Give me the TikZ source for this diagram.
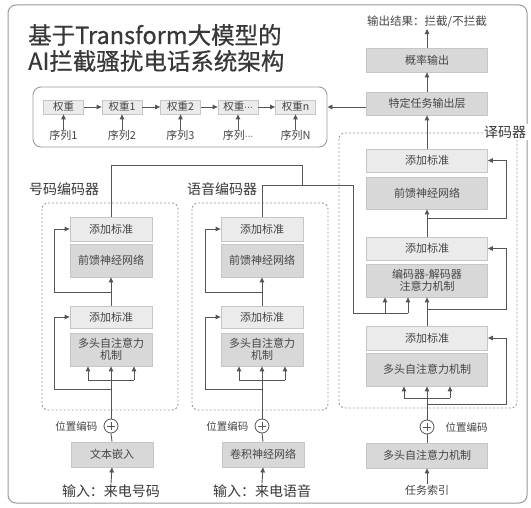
\documentclass[tikz,border=0pt]{standalone}
\usepackage{fontspec}
\setmainfont{Noto Sans CJK SC}
\newfontfamily\titlefont[FakeBold=0.6]{Noto Sans CJK SC}
\newfontfamily\dvfont{DejaVu Sans}
\newcommand{\mydots}{{\dvfont\fontsize{8.5}{10}\selectfont ⋯}}
\usetikzlibrary{arrows.meta}
\definecolor{lightbox}{HTML}{EBEBEB}
\definecolor{darkbox}{HTML}{D8D8D8}
\definecolor{boxline}{HTML}{C6C6C6}
\definecolor{txt}{HTML}{454545}
\definecolor{titletxt}{HTML}{383838}
\definecolor{ln}{HTML}{555555}
\definecolor{frame}{HTML}{9A9A9A}
\begin{document}
\begin{tikzpicture}[x=1pt,y=-1pt,
  lbox/.style={draw=boxline, fill=lightbox, line width=0.8pt, text=txt, font=\fontsize{11}{12.5}\selectfont, inner sep=0pt, align=center},
  dbox/.style={lbox, fill=darkbox},
  encbox/.style={minimum width=82pt},
  decbox/.style={minimum width=121pt},
  wbox/.style={lbox, font=\fontsize{10.5}{12}\selectfont, minimum width=40pt, minimum height=14pt},
  conn/.style={draw=ln, line width=0.9pt},
  arr/.style={conn, -{Triangle[length=5pt,width=4.5pt]}},
  dashbox/.style={draw=frame, line width=0.9pt, dash pattern=on 2pt off 2pt, rounded corners=6pt},
  pluscirc/.style={circle, draw=ln, line width=0.8pt, fill=white, minimum size=14pt, inner sep=0pt},
  small/.style={text=txt, font=\fontsize{10.5}{12}\selectfont, inner sep=1pt},
  lab/.style={text=txt, font=\fontsize{11}{12}\selectfont, inner sep=1pt},
  head/.style={text=titletxt, font=\fontsize{14}{16}\selectfont, inner sep=1pt},
  inlab/.style={text=titletxt, font=\fontsize{14}{16}\selectfont, inner sep=1pt},
]
\useasboundingbox (0,0) rectangle (531,508);
\fill[white] (0,0) rectangle (531,508);
\draw[draw=frame, line width=1pt, rounded corners=8pt] (8,5) rectangle (527,503);

% title
\node[anchor=west, text=titletxt, font=\titlefont\fontsize{23.5}{26}\selectfont, inner sep=0pt] (t1) at (28,35) {基于Transform大模型的};
\node[anchor=west, text=titletxt, font=\titlefont\fontsize{23.5}{26}\selectfont, inner sep=0pt] (t2) at (28,61) {AI拦截骚扰电话系统架构};

% output column
\node[lab, font=\fontsize{11.5}{13}\selectfont] (outT) at (427,22) {输出结果：拦截/不拦截};
\node[dbox, decbox, minimum height=24pt] (oP) at (427,60) {概率输出};
\node[dbox, decbox, minimum height=23pt] (oT) at (427,103.5) {特定任务输出层};

% weights panel
\node[draw=frame, line width=0.9pt, rounded corners=8pt, minimum width=294pt, minimum height=60pt, inner sep=0pt] (panel) at (180,117) {};
\node[wbox] (w1) at (63.5,107) {权重};
\node[wbox] (w2) at (122,107) {权重1};
\node[wbox] (w3) at (180.5,107) {权重2};
\node[wbox] (w4) at (238,107) {权重\mydots};
\node[wbox] (w5) at (295.5,107) {权重n};
\node[lab] (s1) at (63.5,135) {序列1};
\node[lab] (s2) at (122,135) {序列2};
\node[lab] (s3) at (180.5,135) {序列3};
\node[lab] (s4) at (238,135) {序列\mydots};
\node[lab] (s5) at (295.5,135) {序列N};
\foreach \a/\b in {w1/w2,w2/w3,w3/w4,w4/w5} \draw[arr] (\a.east) -- (\b.west);
\foreach \i in {1,...,5} \draw[arr] ([yshift=-1pt]s\i.north) -- (w\i.south);
\draw[arr] (oT.west |- w5) -- (panel.east |- w5);

% dashed containers
\draw[dashbox] (42,203) rectangle (178,410);
\draw[dashbox] (192,203) rectangle (328,410);
\draw[dashbox] (339,133) rectangle (517,408);
\node[head] (hn) at (28,189) [anchor=west] {号码编码器};
\node[head] (hs) at (186,189) [anchor=west] {语音编码器};
\node[head, fill=white, inner sep=1.5pt] (hd) at (505,132) {译码器};

% number encoder
\node[lbox, encbox, minimum height=24pt] (nA2) at (111,229) {添加标准};
\node[dbox, encbox, minimum height=33pt] (nF) at (111,260.5) {前馈神经网络};
\node[lbox, encbox, minimum height=22pt] (nA1) at (111,317) {添加标准};
\node[dbox, encbox, minimum height=33pt] (nM) at (111,349.5) {多头自注意力\\机制};
\node[pluscirc] (nP) at (111,426) {};
\node[small, anchor=east] (npl) at ([xshift=-5pt]nP.west) {位置编码};
\node[dbox, encbox, minimum height=25pt] (nE) at (112,454.5) {文本嵌入};
\node[inlab] (nI) at (111,491) {输入：来电号码};

% speech encoder
\node[lbox, encbox, minimum height=24pt] (sA2) at (262,229) {添加标准};
\node[dbox, encbox, minimum height=33pt] (sF) at (262,260.5) {前馈神经网络};
\node[lbox, encbox, minimum height=22pt] (sA1) at (262,317) {添加标准};
\node[dbox, encbox, minimum height=33pt] (sM) at (262,349.5) {多头自注意力\\机制};
\node[pluscirc] (sP) at (262,426) {};
\node[small, anchor=east] (spl) at ([xshift=-5pt]sP.west) {位置编码};
\node[dbox, encbox, minimum height=25pt] (sE) at (263,454.5) {卷积神经网络};
\node[inlab] (sI) at (262,491) {输入：来电语音};

% decoder
\node[lbox, decbox, minimum height=23pt] (dA3) at (427,160.5) {添加标准};
\node[dbox, decbox, minimum height=32pt] (dF) at (427,193) {前馈神经网络};
\node[lbox, decbox, minimum height=23pt] (dA2) at (427,248.5) {添加标准};
\node[dbox, decbox, minimum height=33pt] (dC) at (427,280.5) {编码器-解码器\\注意力机制};
\node[lbox, decbox, minimum height=24pt] (dA1) at (427,338) {添加标准};
\node[dbox, decbox, minimum height=33pt] (dM) at (427,369.5) {多头自注意力机制};
\node[pluscirc] (dP) at (427,427) {};
\node[small, anchor=west] (dpl) at ([xshift=10pt]dP.east) {位置编码};
\node[dbox, decbox, minimum height=25pt] (dQ) at (427,455.5) {多头自注意力机制};
\node[lab] (dI) at (427,490) {任务索引};

% plus signs
\foreach \p in {nP,sP,dP} {
  \draw[conn, line width=0.8pt] ([xshift=-4pt]\p.center) -- ([xshift=4pt]\p.center);
  \draw[conn, line width=0.8pt] ([yshift=-4pt]\p.center) -- ([yshift=4pt]\p.center);
}

% encoder connections
\foreach \e/\x in {n/111,s/262} {
  \draw[arr] (\e I.north) -- (\e E.south);
  \draw[conn] (\e E.north) -- (\e P.south);
  \draw[arr] (\e P.north) -- (\e M.south);
  \coordinate (\e L) at (\x-23,380);
  \coordinate (\e R) at (\x+23,380);
  \draw[conn] (\e L) -- (\e R);
  \draw[arr] (\e L) -- (\e L |- \e M.south);
  \draw[arr] (\e R) -- (\e R |- \e M.south);
  \coordinate (\e r1) at (\x,389);
  \draw[arr] (\e r1) -| ([xshift=-15pt]\e A1.west) -- (\e A1.west);
  \draw[arr] (\e A1.north) -- (\e F.south);
  \coordinate (\e r2) at (\x,292);
  \draw[arr] (\e r2) -| ([xshift=-15pt]\e A2.west) -- (\e A2.west);
}

% encoder outputs to decoder
\coordinate (cL) at (385,313);
\coordinate (cR) at (408,313);
\draw[conn] (nA2.north) |- (302,165) -- (302,185);
\draw[conn] (sA2.north) |- (353,185) |- (cR);
\draw[arr] (cL) -- (cL |- dC.south);
\draw[arr] (cR) -- (cR |- dC.south);

% decoder connections
\draw[arr] (dI.north) -- (dQ.south);
\draw[conn] (dQ.north) -- (dP.south);
\draw[arr] (dP.north) -- (dM.south);
\coordinate (dL) at (404,398);
\coordinate (dR) at (450,398);
\draw[conn] (dL) -- (dR);
\draw[arr] (dL) -- (dL |- dM.south);
\draw[arr] (dR) -- (dR |- dM.south);
\coordinate (dr1) at (427,404);
\draw[arr] (dr1) -| ([xshift=19pt]dA1.east) -- (dA1.east);
\draw[arr] (dA1.north) -- (dC.south);
\coordinate (dr2) at (427,309);
\draw[arr] (dr2) -| ([xshift=19pt]dA2.east) -- (dA2.east);
\draw[arr] (dA2.north) -- (dF.south);
\coordinate (dr3) at (427,218);
\draw[arr] (dr3) -| ([xshift=19pt]dA3.east) -- (dA3.east);
\draw[arr] (dA3.north) -- (oT.south);
\draw[arr] (oT.north) -- (oP.south);
\draw[arr] (oP.north) -- (outT.south);
\end{tikzpicture}
\end{document}
